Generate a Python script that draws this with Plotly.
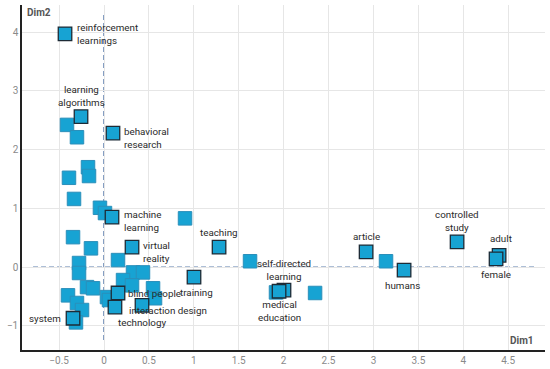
import plotly.graph_objects as go

# Labelled points (Dim1, Dim2)
lab_names = ["reinforcement<br>learnings", "learning<br>algorithms", "behavioral<br>research",
             "machine<br>learning", "virtual<br>reality", "teaching", "self-directed<br>learning",
             "medical<br>education", "training", "article", "humans", "controlled<br>study",
             "adult", "female", "blind people", "interaction design", "technology", "system"]
lab_x = [-0.434, -0.256, 0.100, 0.089, 0.312, 1.281, 2.004, 1.949, 1.002, 2.918, 3.341, 3.931,
         4.399, 4.365, 0.156, 0.122, 0.423, -0.345]
lab_y = [3.97, 2.56, 2.28, 0.85, 0.34, 0.34, -0.39, -0.41, -0.17, 0.26, -0.05, 0.43,
         0.20, 0.14, -0.44, -0.68, -0.65, -0.87]
# label placement (anchor, xshift px, yshift px)
lab_pos = [("left", 10, 0), ("center", 0, 21), ("left", 9, -5), ("left", 10, -4), ("left", 9, -5),
           ("center", 0, 15), ("center", 0, 20), ("center", 0, -20), ("center", 2, -15),
           ("center", 0, 15), ("center", -2, -15), ("center", 0, 21), ("center", 2, 17),
           ("center", 0, -16), ("left", 8, -1), ("left", 12, -3), ("center", 0, -17),
           ("right", -10, 0)]

# Unlabelled points
unl_x = [-0.412, -0.301, -0.178, -0.390, -0.167, -0.334, -0.045, 0.011, 0.902, -0.345, -0.145,
         0.156, -0.278, -0.278, 0.323, 0.434, 0.212, 0.312, -0.189, -0.122, 0.546, 0.568,
         -0.401, 0.033, 0.056, -0.301, -0.245, -0.312, 1.626, 1.915, 2.350, 3.140]
unl_y = [2.42, 2.21, 1.70, 1.52, 1.55, 1.16, 1.01, 0.92, 0.83, 0.51, 0.32, 0.12, 0.07, -0.10,
         -0.09, -0.09, -0.22, -0.31, -0.34, -0.36, -0.36, -0.53, -0.48, -0.51, -0.56, -0.61,
         -0.73, -0.94, 0.10, -0.43, -0.44, 0.10]

x_ticks = [-0.5, 0, 0.5, 1, 1.5, 2, 2.5, 3, 3.5, 4, 4.5]
x_tick_text = ["−0.5", "0", "0.5", "1", "1.5", "2", "2.5", "3", "3.5", "4", "4.5"]
y_ticks = [-1, 0, 1, 2, 3, 4]
y_tick_text = ["−1", "0", "1", "2", "3", "4"]

FILL = "#17A3D3"
FONT = "Roboto"

fig = go.Figure()
fig.add_trace(go.Scatter(x=unl_x, y=unl_y, mode="markers",
                         marker=dict(symbol="square", size=13.5, color=FILL,
                                     line=dict(color="#2b8fba", width=1)),
                         hoverinfo="skip", showlegend=False))
fig.add_trace(go.Scatter(x=lab_x, y=lab_y, mode="markers",
                         marker=dict(symbol="square", size=13.5, color=FILL,
                                     line=dict(color="#1d2b36", width=1.3)),
                         text=lab_names, hoverinfo="text", showlegend=False))

for name, x, y, (anc, xs, ys) in zip(lab_names, lab_x, lab_y, lab_pos):
    fig.add_annotation(x=x, y=y, text=name, showarrow=False, xanchor=anc, yanchor="middle",
                       xshift=xs, yshift=ys, align=anc if anc != "center" else "center",
                       font=dict(family=FONT, size=9.8, color="#2a2a2a"))

dash_col = "#5d7fae"
fig.add_shape(type="line", x0=0, x1=0, y0=-1.24, y1=4.29, xref="x", yref="y",
              line=dict(color=dash_col, width=1.5, dash="5px,3px"), layer="below")
fig.add_shape(type="line", x0=-0.79, x1=4.8, y0=0, y1=0, xref="x", yref="y",
              line=dict(color=dash_col, width=1.5, dash="5px,3px"), layer="below")

fig.add_annotation(text="<b>Dim1</b>", xref="paper", yref="paper", x=0.982, y=0.005,
                   xanchor="right", yanchor="bottom", showarrow=False,
                   font=dict(family=FONT, size=10, color="#555555"))
fig.add_annotation(text="<b>Dim2</b>", xref="paper", yref="paper", x=0.005, y=1.0,
                   xanchor="left", yanchor="top", showarrow=False,
                   font=dict(family=FONT, size=10, color="#555555"))

fig.update_layout(
    width=550, height=369,
    margin=dict(l=22, r=5, t=5, b=19),
    plot_bgcolor="white", paper_bgcolor="white",
    font=dict(family=FONT, size=10, color="#8a8a8a"),
    xaxis=dict(range=[-0.913, 4.91], tickvals=x_ticks, ticktext=x_tick_text,
               showgrid=True, gridcolor="#e6e6e6", gridwidth=1, zeroline=False,
               showline=True, linecolor="#222222", linewidth=1.5, ticks="",
               automargin=False,
               tickfont=dict(family=FONT, size=10, color="#8a8a8a")),
    yaxis=dict(range=[-1.41, 4.46], tickvals=y_ticks, ticktext=y_tick_text,
               showgrid=True, gridcolor="#e6e6e6", gridwidth=1, zeroline=False,
               showline=True, linecolor="#222222", linewidth=1.5, ticks="",
               automargin=False,
               tickfont=dict(family=FONT, size=10, color="#8a8a8a")),
)

fig.write_html("out.html", config={"displayModeBar": False},
               post_script="document.body.style.margin='0';document.body.style.overflow='hidden';")
